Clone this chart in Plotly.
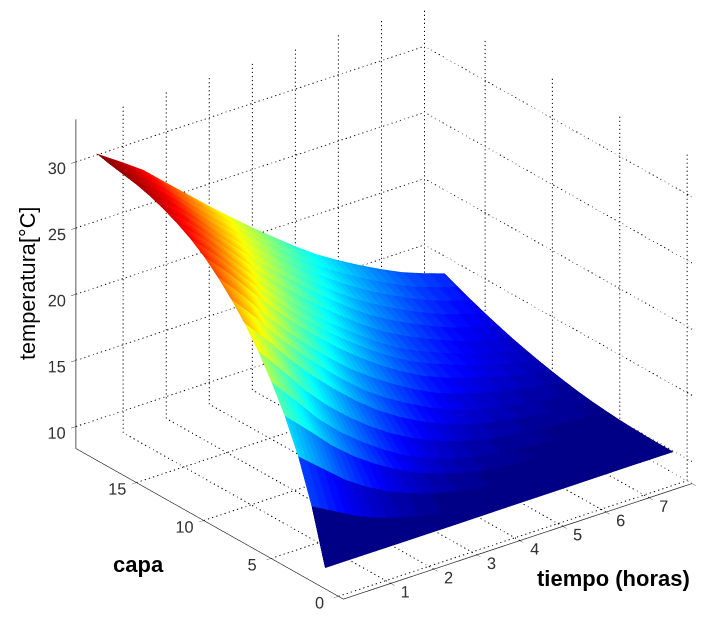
import numpy as np
import plotly.graph_objects as go

tiempo = [-0.1, 0.5, 1, 1.5, 2, 2.5, 3, 3.5, 4, 4.5, 5, 5.5, 6, 6.5, 7, 7.5, 8]
capa = list(range(1, 19))
temperatura = [
    [9.9, 9.9, 9.9, 9.9, 9.9, 9.9, 9.9, 9.91, 9.92, 9.925, 9.93, 9.935, 9.94, 9.945, 9.95, 9.95, 9.95],
    [14.0, 12.93, 12.06, 11.4, 10.9, 10.49, 10.2, 10.06, 9.99, 9.96, 9.95, 9.95, 9.95, 9.95, 9.95, 9.955, 9.96],
    [17.2, 15.59, 14.24, 13.17, 12.29, 11.59, 11.03, 10.63, 10.34, 10.18, 10.09, 10.04, 10.0, 10.0, 9.99, 9.99, 9.98],
    [19.7, 17.86, 16.26, 14.93, 13.8, 12.85, 12.04, 11.43, 10.95, 10.6, 10.36, 10.24, 10.17, 10.11, 10.08, 10.05, 10.02],
    [21.7, 19.55, 17.7, 16.18, 14.9, 13.77, 12.81, 12.06, 11.46, 11.0, 10.67, 10.46, 10.33, 10.22, 10.16, 10.11, 10.08],
    [23.5, 21.26, 19.3, 17.64, 16.22, 14.96, 13.88, 12.98, 12.25, 11.66, 11.21, 10.87, 10.62, 10.46, 10.36, 10.26, 10.18],
    [25.0, 22.89, 20.97, 19.26, 17.72, 16.31, 15.06, 14.02, 13.14, 12.41, 11.82, 11.4, 11.08, 10.8, 10.58, 10.42, 10.3],
    [26.25, 24.14, 22.2, 20.45, 18.85, 17.36, 16.0, 14.89, 13.94, 13.08, 12.35, 11.82, 11.4, 11.06, 10.8, 10.6, 10.45],
    [27.35, 25.26, 23.33, 21.56, 19.93, 18.41, 17.03, 15.85, 14.8, 13.86, 13.06, 12.46, 11.98, 11.57, 11.24, 10.92, 10.65],
    [28.3, 26.35, 24.49, 22.71, 21.03, 19.51, 18.09, 16.82, 15.67, 14.65, 13.77, 13.1, 12.56, 12.05, 11.61, 11.21, 10.87],
    [29.05, 27.17, 25.35, 23.58, 21.88, 20.32, 18.85, 17.55, 16.36, 15.27, 14.32, 13.59, 12.98, 12.41, 11.91, 11.48, 11.12],
    [29.65, 27.88, 26.12, 24.36, 22.65, 21.05, 19.54, 18.2, 16.97, 15.8, 14.78, 13.98, 13.31, 12.67, 12.12, 11.73, 11.4],
    [30.15, 28.51, 26.87, 25.14, 23.45, 21.88, 20.4, 19.01, 17.72, 16.51, 15.42, 14.55, 13.79, 13.11, 12.52, 12.08, 11.7],
    [30.55, 29.07, 27.51, 25.83, 24.19, 22.69, 21.25, 19.83, 18.49, 17.24, 16.1, 15.17, 14.35, 13.62, 12.97, 12.48, 12.05],
    [30.85, 29.45, 28.0, 26.37, 24.79, 23.29, 21.85, 20.44, 19.1, 17.85, 16.71, 15.74, 14.88, 14.1, 13.41, 12.88, 12.42],
    [31.05, 29.76, 28.41, 26.85, 25.32, 23.84, 22.42, 21.02, 19.7, 18.47, 17.34, 16.33, 15.43, 14.62, 13.89, 13.32, 12.82],
    [31.25, 30.0, 28.74, 27.24, 25.77, 24.3, 22.89, 21.51, 20.2, 18.96, 17.83, 16.83, 15.93, 15.09, 14.33, 13.76, 13.25],
    [31.5, 30.2, 29.06, 27.62, 26.2, 24.77, 23.4, 22.07, 20.8, 19.56, 18.4, 17.41, 16.5, 15.65, 14.87, 14.25, 13.7],
]
x_ticks = [1, 2, 3, 4, 5, 6, 7, 8]
y_ticks = [0, 5, 10, 15]
z_ticks = [10, 15, 20, 25, 30]
x_range = [-0.1, 8.0]
y_range = [-0.37, 19.5]
z_range = [8.34, 33.2]


def jet(v):
    c = lambda k: max(0.0, min(1.0, 1.5 - abs(4 * v - k)))
    return f"rgb({round(255*c(3))},{round(255*c(2))},{round(255*c(1))})"


N = 64
jet_scale = []
for i in range(N):
    col = jet((i + 0.5) / N)
    jet_scale += [[i / N, col], [(i + 1) / N, col]]

Z = np.array(temperatura)
T = np.array(tiempo, float)
C = np.array(capa, float)
# flat shading: each band between two layers takes the colour of its lower layer
rows_lo = np.repeat(np.arange(len(C) - 1), 2)
rows_geo = np.ravel(np.column_stack([np.arange(len(C) - 1), np.arange(1, len(C))]))
Zb = Z[rows_geo]
Cb = Z[rows_lo]
Xb = np.tile(T, (len(rows_geo), 1))
Yb = np.tile(C[rows_geo][:, None], (1, len(T)))

fig = go.Figure()
fig.add_trace(go.Surface(
    x=Xb, y=Yb, z=Zb, surfacecolor=Cb, colorscale=jet_scale,
    cmin=Z.min(), cmax=Z.max(), showscale=False,
    lighting=dict(ambient=1, diffuse=0, specular=0, fresnel=0, roughness=1),
    hoverinfo="skip",
))

gx, gy, gz = [], [], []
DOT = 0.3  # fraction of the dot period that is inked


def seg(a, b, n):
    a, b = np.array(a, float), np.array(b, float)
    d = (b - a) / n
    for i in range(n):
        p = a + d * i
        q = p + d * DOT
        gx.extend([p[0], q[0], None])
        gy.extend([p[1], q[1], None])
        gz.extend([p[2], q[2], None])


x0, x1 = x_range
y0, y1 = y_range
z0, z1 = z_range
for t in x_ticks:
    seg((t, y1, z0), (t, y1, z1), 82)
    seg((t, y0, z0), (t, y1, z0), 70)
for c_ in y_ticks:
    seg((x1, c_, z0), (x1, c_, z1), 82)
    seg((x0, c_, z0), (x1, c_, z0), 84)
for v in z_ticks:
    seg((x0, y1, v), (x1, y1, v), 84)
    seg((x1, y0, v), (x1, y1, v), 70)
fig.add_trace(go.Scatter3d(
    x=gx, y=gy, z=gz, mode="lines",
    line=dict(color="#000000", width=2),
    hoverinfo="skip", showlegend=False,
))

tickfont = dict(family="Liberation Sans", size=14, color="#333333")
axis = dict(showgrid=False, zeroline=False, showbackground=False, showline=True,
            linecolor="#222222", linewidth=1.5, ticks="outside", ticklen=6, tickangle=0,
            tickcolor="#333333", tickwidth=1, tickfont=tickfont, title=dict(text=""),
            showspikes=False, mirror=False)

# camera: azimuth / elevation read from the box edges
eye_dir = np.array([-0.549, -0.7155, 0.432])
right = np.array([0.793, -0.609, 0.0])
up = np.array([0.263, 0.343, 0.902])
PX = 310.0
ZOOM = 1.42
shift = -(23.5 / PX) * right - (16.0 / PX) * up  # move the picture right and up
eye = eye_dir * 2.0 + shift

bold = dict(family="Liberation Sans", size=22, color="black")
common = dict(xref="paper", yref="paper", showarrow=False, xanchor="center", yanchor="middle")
fig.update_layout(
    width=705, height=619, margin=dict(l=0, r=0, t=0, b=0),
    paper_bgcolor="white", showlegend=False,
    scene=dict(
        domain=dict(x=[0, 1], y=[0, 1]),
        aspectmode="manual", aspectratio=dict(x=ZOOM, y=ZOOM, z=0.83 * ZOOM),
        xaxis=dict(axis, range=x_range, tickvals=x_ticks),
        yaxis=dict(axis, range=y_range, tickvals=y_ticks),
        zaxis=dict(axis, range=z_range, tickvals=z_ticks),
        camera=dict(
            projection=dict(type="orthographic"),
            up=dict(x=0, y=0, z=1),
            center=dict(x=shift[0], y=shift[1], z=shift[2]),
            eye=dict(x=eye[0], y=eye[1], z=eye[2]),
        ),
    ),
    annotations=[
        dict(text="<b>capa</b>", x=130 / 705, y=1 - 556 / 619, font=bold, **common),
        dict(text="<b>tiempo (horas)</b>", x=605 / 705, y=1 - 570 / 619, font=bold, **common),
        dict(text="temperatura[°C]", x=19 / 705, y=1 - 276 / 619, textangle=-90,
             font=dict(family="Liberation Sans", size=21.7, color="black"), **common),
    ],
)
fig.write_html("out.html")
